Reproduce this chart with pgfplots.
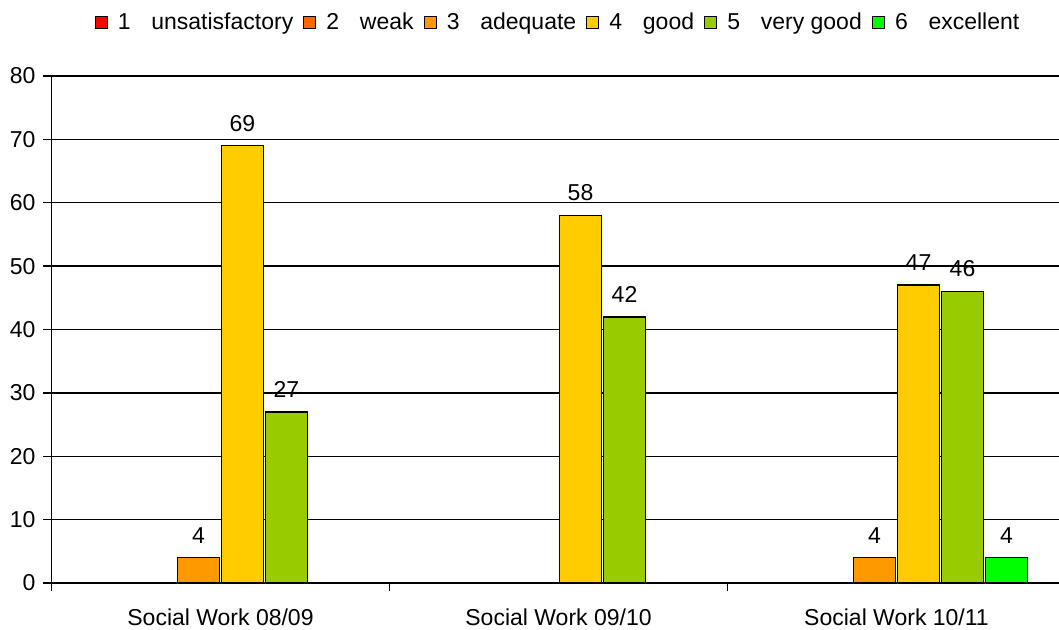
\documentclass[border=0pt]{standalone}
\usepackage{pgfplots}
\pgfplotsset{compat=1.18}
\usepackage{fontspec}
\setmainfont{Liberation Sans}
\definecolor{g1}{HTML}{FF0000}
\definecolor{g2}{HTML}{FF6600}
\definecolor{g3}{HTML}{FF9900}
\definecolor{g4}{HTML}{FFCC00}
\definecolor{g5}{HTML}{99CC00}
\definecolor{g6}{HTML}{00FF00}
\begin{document}
\fontsize{11.5}{13}\selectfont
\begin{tikzpicture}
\useasboundingbox (-25.75pt,-23.5pt) rectangle (503.75pt,291.5pt);
\begin{axis}[
  at={(0,0)}, anchor=south west,
  scale only axis, width=507pt, height=253.5pt,
  xmin=-0.5, xmax=2.5, ymin=0, ymax=80,
  axis x line*=bottom, axis y line*=left,
  axis line style={black, line width=0.75pt},
  ytick={0,10,...,70},
  extra y ticks={80},
  extra y tick style={grid style={gray!70, line width=0.75pt}},
  ymajorgrids,
  major grid style={black, line width=0.7pt},
  xtick={0,1,2},
  xticklabels={Social Work 08/09, Social Work 09/10, Social Work 10/11},
  minor xtick={-0.5,0.5,1.5,2.5},
  major x tick style={draw=none},
  tick align=outside,
  major tick length=4pt, minor tick length=4pt,
  tick style={black, line width=0.7pt},
  ticklabel style={font=\fontsize{11.5}{13}\selectfont},
  /pgf/number format/assume math mode=true,
  xticklabel style={yshift=-5pt},
  ybar, bar width=21pt,
  nodes near coords,
  every node near coord/.append style={font=\fontsize{11.5}{13}\selectfont, yshift=3pt, black},
  legend image code/.code={\draw[#1, draw=black, line width=0.6pt] (0pt,-3pt) rectangle (6pt,3pt);},
  legend style={at={(0.5005,1.105)}, anchor=center, draw=none, fill=none,
    legend columns=-1, font=\fontsize{11.5}{13}\selectfont,
    /tikz/every odd column/.append style={column sep=3pt},
    /tikz/every even column/.append style={column sep=3pt}},
]
\addlegendimage{fill=g1}
\addlegendentry{1\hspace{0.9em}unsatisfactory}
\addlegendimage{fill=g2}
\addlegendentry{2\hspace{0.9em}weak}
\addplot[fill=g3, draw=black, line width=0.7pt, bar shift=-11pt] coordinates {(0,4) (2,4)};
\addlegendentry{3\hspace{0.9em}adequate}
\addplot[fill=g4, draw=black, line width=0.7pt, bar shift=11pt] coordinates {(0,69) (1,58) (2,47)};
\addlegendentry{4\hspace{0.9em}good}
\addplot[fill=g5, draw=black, line width=0.7pt, bar shift=33pt] coordinates {(0,27) (1,42) (2,46)};
\addlegendentry{5\hspace{0.9em}very good}
\addplot[fill=g6, draw=black, line width=0.7pt, bar shift=55pt] coordinates {(2,4)};
\addlegendentry{6\hspace{0.9em}excellent}
\end{axis}
\end{tikzpicture}
\end{document}
